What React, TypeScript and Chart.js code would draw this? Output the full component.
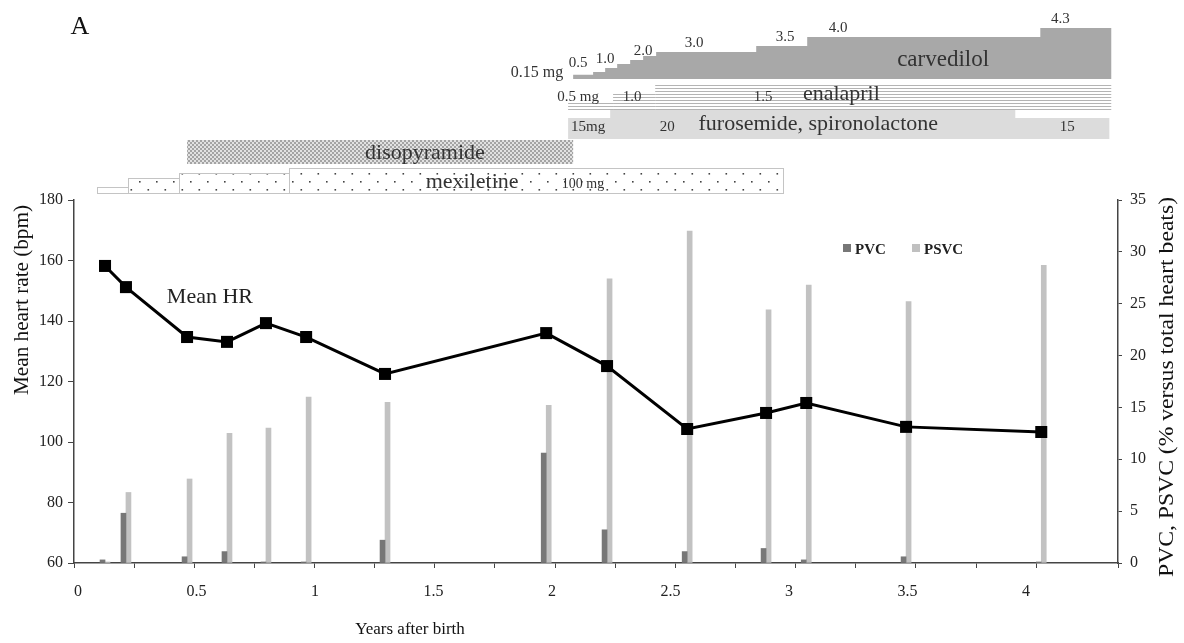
import { useEffect, useRef } from 'react';
import { Chart, registerables } from 'chart.js';

Chart.register(...registerables);

const FONT = "'Liberation Serif', 'Times New Roman', serif";

// ---- main chart data ----
const visitYears = [0.129, 0.216, 0.47, 0.636, 0.798, 0.965, 1.293, 1.963, 2.216, 2.549, 2.877, 3.044, 3.459, 4.021];
const meanHR = [158.2, 151.2, 134.7, 133.1, 139.3, 134.7, 122.5, 136.0, 125.1, 104.3, 109.6, 112.9, 105.0, 103.3];
const pvc = [0.3, 4.8, 0.6, 1.1, 0.1, 0.1, 2.2, 10.6, 3.2, 1.1, 1.4, 0.3, 0.6, 0.1];
const psvc = [0.1, 6.8, 8.1, 12.5, 13.0, 16.0, 15.5, 15.2, 27.4, 32.0, 24.4, 26.8, 25.2, 28.7];

const xMin = 0;
const xMax = 4.34;
// label axis of the original figure is slightly offset from its tick marks
const xLabelMin = -0.0169;
const xLabelMax = 4.388;
const hrMin = 60;
const hrMax = 180;
const pctMin = 0;
const pctMax = 35;

// ---- drug schedule data (years) ----
const carvStart = [2.075, 2.158, 2.208, 2.258, 2.312, 2.366, 2.42, 2.836, 3.048, 4.017];
const carvEnd = [2.158, 2.208, 2.258, 2.312, 2.366, 2.42, 2.836, 3.048, 4.017, 4.312];
const carvDose = [0.15, 0.5, 1.0, 1.5, 2.0, 2.5, 3.0, 3.5, 4.0, 4.3];
const carvLabels = ['0.5', '1.0', '2.0', '3.0', '3.5', '4.0', '4.3'];
const carvLabelYears = [2.096, 2.208, 2.366, 2.578, 2.956, 3.177, 4.1];
const carvLabelDoses = [0.5, 1.0, 2.0, 3.0, 3.5, 4.0, 4.3];

const enaStart = [2.054, 2.241, 2.416];
const enaEnd = [2.241, 2.416, 4.312];
const enaDose = [0.5, 1.0, 1.5];
const enaLabels = ['0.5 mg', '1.0', '1.5'];
const enaLabelYears = [2.096, 2.32, 2.865];

const furoStart = [2.054, 2.229, 3.913];
const furoEnd = [2.229, 3.913, 4.304];
const furoDose = [15, 20, 15];
const furoLabels = ['15mg', '20', '15'];
const furoLabelYears = [2.137, 2.466, 4.129];

const disoStart = 0.47;
const disoEnd = 2.075;

const mexStart = [0.096, 0.225, 0.437, 0.894];
const mexEnd = [0.225, 0.437, 0.894, 2.948];
const mexDose = [25, 60, 80, 100];

function makeChecker(): CanvasPattern | string {
  const c = document.createElement('canvas');
  c.width = 4; c.height = 4;
  const g = c.getContext('2d');
  if (!g) return '#bbb';
  g.fillStyle = '#e2e2e2'; g.fillRect(0, 0, 4, 4);
  g.fillStyle = '#a4a4a4'; g.fillRect(0, 0, 2, 2); g.fillRect(2, 2, 2, 2);
  const ctx = document.createElement('canvas').getContext('2d');
  return (ctx && ctx.createPattern(c, 'repeat')) || '#bbb';
}

function makeDots(): CanvasPattern | string {
  const c = document.createElement('canvas');
  c.width = 17; c.height = 16;
  const g = c.getContext('2d');
  if (!g) return '#fff';
  g.fillStyle = '#fff'; g.fillRect(0, 0, 17, 16);
  g.fillStyle = '#444';
  g.fillRect(3, 5, 1.6, 1.6);
  g.fillRect(11.5, 13, 1.6, 1.6);
  const ctx = document.createElement('canvas').getContext('2d');
  return (ctx && ctx.createPattern(c, 'repeat')) || '#fff';
}

const interp = (d: number, knots: number[][]) => {
  for (let i = 1; i < knots.length; i++) {
    if (d <= knots[i][0]) {
      const [x0, y0] = knots[i - 1];
      const [x1, y1] = knots[i];
      return y0 + ((d - x0) / (x1 - x0)) * (y1 - y0);
    }
  }
  return knots[knots.length - 1][1];
};
const carvH = (d: number) => interp(d, [[0, 3], [3, 27], [3.5, 33], [4, 42], [4.3, 51]]);
const enaH = (d: number) => 16 * d;
const furoH = (d: number) => 1.6 * d - 3;
const mexH = (d: number) => d / 4;

function text(ctx: CanvasRenderingContext2D, s: string, x: number, y: number, size: number, align: CanvasTextAlign = 'center', weight = '') {
  ctx.font = `${weight} ${size}px ${FONT}`.trim();
  ctx.textAlign = align;
  ctx.textBaseline = 'middle';
  ctx.fillText(s, x, y);
}

function vText(ctx: CanvasRenderingContext2D, s: string, cx: number, cy: number, size: number, targetLen: number) {
  ctx.save();
  ctx.translate(cx, cy);
  ctx.rotate(-Math.PI / 2);
  ctx.font = `${size}px ${FONT}`;
  const w = ctx.measureText(s).width;
  ctx.scale(targetLen / w, 1);
  ctx.textAlign = 'center';
  ctx.textBaseline = 'middle';
  ctx.fillText(s, 0, 0);
  ctx.restore();
}

function stepPath(ctx: CanvasRenderingContext2D, px: (v: number) => number, starts: number[], ends: number[], heights: number[], bottom: number) {
  ctx.beginPath();
  ctx.moveTo(px(starts[0]), bottom);
  for (let i = 0; i < starts.length; i++) {
    ctx.lineTo(px(starts[i]), bottom - heights[i]);
    ctx.lineTo(px(ends[i]), bottom - heights[i]);
    if (i < starts.length - 1 && ends[i] < starts[i + 1]) {
      ctx.lineTo(px(ends[i]), bottom);
      ctx.lineTo(px(starts[i + 1]), bottom);
    }
  }
  ctx.lineTo(px(ends[ends.length - 1]), bottom);
  ctx.closePath();
}

const drugPlugin = {
  id: 'drugSchedule',
  afterDraw(chart: any) {
    const ctx: CanvasRenderingContext2D = chart.ctx;
    const xs = chart.scales.x;
    const yl = chart.scales.y;
    const px = (v: number) => xs.getPixelForValue(v);
    ctx.save();

    // carvedilol
    const carvBottom = 79;
    stepPath(ctx, px, carvStart, carvEnd, carvDose.map(carvH), carvBottom);
    ctx.fillStyle = '#a8a8a8';
    ctx.fill();
    ctx.fillStyle = '#333';
    carvLabels.forEach((l, i) => {
      text(ctx, l, px(carvLabelYears[i]), carvBottom - carvH(carvLabelDoses[i]) - 9, 15);
    });
    text(ctx, '0.15 mg', px(carvStart[0]) - 10, 73, 16, 'right');
    text(ctx, 'carvedilol', px(3.613), 60, 23);

    // enalapril (horizontal lines)
    const enaBottom = 109;
    ctx.strokeStyle = '#b4b4b4';
    ctx.lineWidth = 1;
    enaStart.forEach((s, i) => {
      const top = enaBottom - enaH(enaDose[i]);
      ctx.beginPath();
      for (let y = enaBottom; y >= top; y -= 3) {
        ctx.moveTo(px(s), y + 0.5);
        ctx.lineTo(px(enaEnd[i]), y + 0.5);
      }
      ctx.stroke();
    });
    ctx.fillStyle = '#333';
    enaLabels.forEach((l, i) => text(ctx, l, px(enaLabelYears[i]), 97, 15));
    text(ctx, 'enalapril', px(3.19), 94, 22);

    // furosemide, spironolactone
    const furoBottom = 139;
    stepPath(ctx, px, furoStart, furoEnd, furoDose.map(furoH), furoBottom);
    ctx.fillStyle = '#dcdcdc';
    ctx.fill();
    ctx.fillStyle = '#333';
    furoLabels.forEach((l, i) => text(ctx, l, px(furoLabelYears[i]), 127, 15));
    text(ctx, 'furosemide, spironolactone', px(3.094), 124, 22);

    // disopyramide
    ctx.fillStyle = makeChecker();
    ctx.fillRect(px(disoStart), 140, px(disoEnd) - px(disoStart), 24);
    ctx.fillStyle = '#333';
    text(ctx, 'disopyramide', px(1.459), 153, 22);

    // mexiletine
    const mexBottom = 193;
    const dots = makeDots();
    mexStart.forEach((s, i) => {
      const h = mexH(mexDose[i]);
      const x0 = Math.round(px(s)) + 0.5;
      const x1 = Math.round(px(mexEnd[i])) + 0.5;
      const y0 = Math.round(mexBottom - h) + 0.5;
      ctx.fillStyle = h > 10 ? dots : '#fff';
      ctx.fillRect(x0, y0, x1 - x0, mexBottom + 0.5 - y0);
      ctx.strokeStyle = '#c4c4c4';
      ctx.lineWidth = 1;
      ctx.strokeRect(x0, y0, x1 - x0, mexBottom + 0.5 - y0);
    });
    ctx.fillStyle = '#333';
    text(ctx, 'mexiletine', px(1.655), 182, 22);
    text(ctx, '100 mg', px(2.116), 184, 14);

    // panel letter
    ctx.fillStyle = '#111';
    text(ctx, 'A', 80, 27, 26);

    // Mean HR annotation
    ctx.fillStyle = '#222';
    text(ctx, 'Mean HR', px(0.565), yl.getPixelForValue(147.9), 22);

    // legend
    ctx.fillStyle = '#777';
    ctx.fillRect(843, 244, 8, 8);
    ctx.fillStyle = '#c0c0c0';
    ctx.fillRect(912, 244, 8, 8);
    ctx.fillStyle = '#222';
    text(ctx, 'PVC', 855, 250, 15, 'left', 'bold');
    text(ctx, 'PSVC', 924, 250, 15, 'left', 'bold');

    // axis titles
    ctx.fillStyle = '#111';
    text(ctx, 'Years after birth', 410, 630, 17);
    vText(ctx, 'Mean heart rate (bpm)', 22, 300, 21, 190);
    vText(ctx, 'PVC, PSVC (% versus total heart beats)', 1168, 387, 20, 380);

    ctx.restore();
  },
};

const halfLabel = (v: any) => {
  const n = Number(v);
  return Math.abs(n * 2 - Math.round(n * 2)) < 1e-6 && n >= -1e-6 && n <= 4.01 ? String(Math.round(n * 2) / 2) : '';
};

export default function App() {
  const ref = useRef<HTMLCanvasElement | null>(null);
  useEffect(() => {
    if (!ref.current) return;
    const tickFont = { family: FONT, size: 16 };
    const chart = new Chart(ref.current, {
      type: 'line',
      data: {
        datasets: [
          {
            type: 'line',
            label: 'Mean HR',
            data: visitYears.map((x, i) => ({ x, y: meanHR[i] })),
            yAxisID: 'y',
            borderColor: '#000',
            borderWidth: 3,
            pointStyle: 'rect',
            pointRadius: 8.5,
            pointBackgroundColor: '#000',
            pointBorderColor: '#000',
            pointBorderWidth: 0,
            tension: 0,
            order: 0,
          } as any,
          {
            type: 'bar',
            label: 'PVC',
            data: visitYears.map((x, i) => ({ x, y: pvc[i] })),
            yAxisID: 'y1',
            backgroundColor: '#777777',
            barThickness: 5,
            order: 1,
          } as any,
          {
            type: 'bar',
            label: 'PSVC',
            data: visitYears.map((x, i) => ({ x, y: psvc[i] })),
            yAxisID: 'y1',
            backgroundColor: '#c2c2c2',
            barThickness: 5,
            order: 1,
          } as any,
        ],
      },
      options: {
        responsive: false,
        animation: false,
        devicePixelRatio: 1,
        layout: { padding: { top: 200, left: 0, right: 0, bottom: 0 } },
        plugins: { legend: { display: false }, tooltip: { enabled: false } },
        scales: {
          x: {
            type: 'linear',
            position: 'bottom',
            weight: 0,
            min: xMin,
            max: xMax,
            offset: false,
            ticks: {
              stepSize: 0.25,
              autoSkip: false,
              maxRotation: 0,
              font: tickFont,
              padding: 0,
              callback: () => '',
            },
            grid: { drawOnChartArea: false, drawTicks: true, tickLength: 5, color: '#444', offset: false },
            border: { display: true, color: '#444', width: 1.5 },
            afterFit: (s: any) => { s.height = 5; },
          },
          xLabels: {
            type: 'linear',
            axis: 'x',
            position: 'bottom',
            weight: 1,
            min: xLabelMin,
            max: xLabelMax,
            offset: false,
            ticks: {
              stepSize: 0.5,
              includeBounds: false,
              autoSkip: false,
              maxRotation: 0,
              font: tickFont,
              color: '#222',
              padding: 14,
              callback: halfLabel,
            },
            grid: { display: false, drawTicks: false },
            border: { display: false },
            afterFit: (s: any) => { s.height = 75; },
          },
          y: {
            position: 'left',
            min: hrMin,
            max: hrMax,
            ticks: { stepSize: 20, font: tickFont, color: '#222', padding: 5 },
            grid: { drawOnChartArea: false, drawTicks: true, tickLength: 6, color: '#444' },
            border: { display: true, color: '#444', width: 1.5 },
            afterFit: (s: any) => { s.width = 74; },
          },
          y1: {
            position: 'right',
            min: pctMin,
            max: pctMax,
            ticks: { stepSize: 5, font: tickFont, color: '#222', padding: 8 },
            grid: { drawOnChartArea: false, drawTicks: true, tickLength: 4, color: '#444' },
            border: { display: true, color: '#444', width: 1.5 },
            afterFit: (s: any) => { s.width = 66; },
          },
        },
      } as any,
      plugins: [drugPlugin],
    });
    return () => chart.destroy();
  }, []);
  return (
    <div style={{ position: 'fixed', left: 0, top: 0, width: 1184, height: 643, background: '#fff' }}>
      <canvas ref={ref} width={1184} height={643} style={{ display: 'block' }} />
    </div>
  );
}
